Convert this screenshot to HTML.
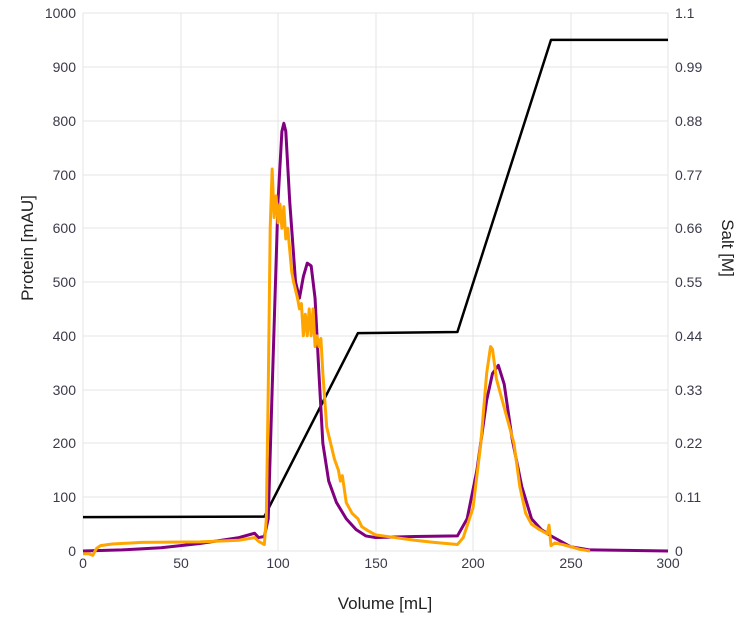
<!DOCTYPE html>
<html><head><style>
body{margin:0;background:#fff}
text{font-family:"Liberation Sans",sans-serif;fill:#3a3a4a;font-size:14px}
.g line{stroke:#e4e4e4;stroke-width:1}
path{fill:none;vector-effect:non-scaling-stroke;stroke-linejoin:round}
</style></head><body>
<svg width="749" height="619" viewBox="0 0 749 619">
<g class="g">
<line x1="83" y1="13" x2="83" y2="551"/><line x1="181" y1="13" x2="181" y2="551"/><line x1="278" y1="13" x2="278" y2="551"/><line x1="376" y1="13" x2="376" y2="551"/><line x1="473" y1="13" x2="473" y2="551"/><line x1="571" y1="13" x2="571" y2="551"/><line x1="668" y1="13" x2="668" y2="551"/>
<line x1="83" y1="13" x2="668" y2="13"/><line x1="83" y1="67" x2="668" y2="67"/><line x1="83" y1="121" x2="668" y2="121"/><line x1="83" y1="175" x2="668" y2="175"/><line x1="83" y1="228" x2="668" y2="228"/><line x1="83" y1="282" x2="668" y2="282"/><line x1="83" y1="336" x2="668" y2="336"/><line x1="83" y1="390" x2="668" y2="390"/><line x1="83" y1="443" x2="668" y2="443"/><line x1="83" y1="497" x2="668" y2="497"/><line x1="83" y1="551" x2="668" y2="551"/>
</g>
<g text-anchor="end">
<text x="76" y="18">1000</text><text x="76" y="72">900</text><text x="76" y="126">800</text><text x="76" y="180">700</text><text x="76" y="233">600</text><text x="76" y="287">500</text><text x="76" y="341">400</text><text x="76" y="395">300</text><text x="76" y="448">200</text><text x="76" y="502">100</text><text x="76" y="556">0</text>
</g>
<g text-anchor="start">
<text x="675" y="18">1.1</text><text x="675" y="72">0.99</text><text x="675" y="126">0.88</text><text x="675" y="180">0.77</text><text x="675" y="233">0.66</text><text x="675" y="287">0.55</text><text x="675" y="341">0.44</text><text x="675" y="395">0.33</text><text x="675" y="448">0.22</text><text x="675" y="502">0.11</text><text x="675" y="556">0</text>
</g>
<g text-anchor="middle">
<text x="83" y="568">0</text><text x="181" y="568">50</text><text x="278" y="568">100</text><text x="376" y="568">150</text><text x="473" y="568">200</text><text x="571" y="568">250</text><text x="668" y="568">300</text>
<text x="385" y="609" style="font-size:17px;fill:#222">Volume [mL]</text>
<text transform="translate(33,248) rotate(-90)" style="font-size:17px;fill:#222">Protein [mAU]</text>
<text transform="translate(722,248) rotate(90)" style="font-size:17px;fill:#222">Salt [M]</text>
</g>
<g transform="translate(83,551) scale(1.95,-0.538)">
<path stroke="#000" stroke-width="2.5" d="M0,63 L93,64 L141,405 L192,407 L240,950 L300,950"/>
<path stroke="#800080" stroke-width="3" d="M0,0 L20,2 L40,6 L60,14 L80,25 L88,33 L90,25 L93,27 L95,60 L97,300 L100,650 L102,780 L103,795 L104,780 L106,650 L109,500 L111,470 L113,510 L115,535 L117,530 L119,470 L121,330 L123,200 L126,130 L130,90 L135,60 L140,40 L145,28 L150,25 L170,27 L192,28 L197,60 L202,150 L207,280 L210,330 L213,345 L216,310 L220,210 L225,120 L230,60 L235,40 L240,28 L245,18 L250,8 L260,2 L300,0"/>
<path stroke="#ffa500" stroke-width="3" d="M0,-5 L3,-5 L5,-8 L7,5 L9,10 L15,13 L30,16 L60,17 L80,20 L88,25 L90,18 L93,12 L94,60 L95,300 L96,600 L97,710 L98,620 L99,660 L100,610 L101,645 L102,600 L103,640 L104,580 L105,600 L106,560 L107,520 L108,500 L110,470 L111,450 L112,460 L113,400 L114,440 L115,400 L116,450 L117,400 L118,450 L119,380 L120,400 L121,380 L122,395 L123,330 L125,230 L127,200 L129,170 L131,150 L132,130 L133,140 L135,90 L138,70 L141,60 L143,45 L146,38 L150,30 L160,25 L170,20 L180,16 L192,12 L195,25 L200,80 L204,200 L207,330 L209,380 L210,375 L212,320 L215,280 L218,240 L221,200 L224,120 L227,70 L230,50 L234,40 L238,32 L239,48 L240,10 L242,15 L246,12 L250,8 L255,3 L260,0"/>
</g>
</svg>
</body></html>
